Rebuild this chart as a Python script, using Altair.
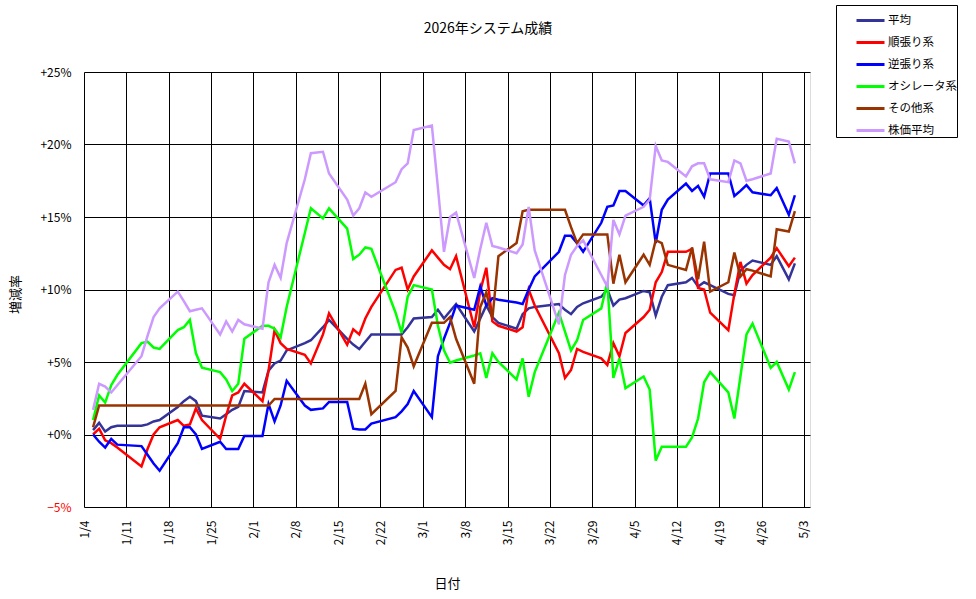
import altair as alt
import pandas as pd

# trading days (2026)
dates = [
    "2026-01-05", "2026-01-06", "2026-01-07", "2026-01-08", "2026-01-09",
    "2026-01-13", "2026-01-14", "2026-01-15", "2026-01-16", "2026-01-19",
    "2026-01-20", "2026-01-21", "2026-01-22", "2026-01-23", "2026-01-26",
    "2026-01-27", "2026-01-28", "2026-01-29", "2026-01-30",
    "2026-02-02", "2026-02-03", "2026-02-04", "2026-02-05", "2026-02-06",
    "2026-02-09", "2026-02-10", "2026-02-12", "2026-02-13", "2026-02-16",
    "2026-02-17", "2026-02-18", "2026-02-19", "2026-02-20", "2026-02-24",
    "2026-02-25", "2026-02-26", "2026-02-27",
    "2026-03-02", "2026-03-03", "2026-03-04", "2026-03-05", "2026-03-06",
    "2026-03-09", "2026-03-10", "2026-03-11", "2026-03-12", "2026-03-13",
    "2026-03-16", "2026-03-17", "2026-03-18", "2026-03-19", "2026-03-23",
    "2026-03-24", "2026-03-25", "2026-03-26", "2026-03-27", "2026-03-30",
    "2026-03-31",
    "2026-04-01", "2026-04-02", "2026-04-03", "2026-04-06", "2026-04-07",
    "2026-04-08", "2026-04-09", "2026-04-10", "2026-04-13", "2026-04-14",
    "2026-04-15", "2026-04-16", "2026-04-17", "2026-04-20", "2026-04-21",
    "2026-04-22", "2026-04-23", "2026-04-24", "2026-04-27", "2026-04-28",
    "2026-04-30",
    "2026-05-01",
]

avg = [0.3, 0.8, 0.2, 0.5, 0.6, 0.6, 0.7, 0.9, 1.0, 1.9, 2.3, 2.6, 2.3, 1.3, 1.1, 1.4, 1.7, 1.9, 3.0,
       2.9, 4.4, 4.9, 5.1, 5.8, 6.3, 6.5, 7.4, 7.9, 6.6, 6.2, 5.9, 6.4, 6.9, 6.9, 6.9, 7.4, 8.0,
       8.1, 8.6, 8.0, 8.5, 9.0, 7.1, 8.0, 8.9, 8.1, 7.7, 7.3, 8.3, 8.7, 8.8, 9.0, 8.6, 8.3, 8.8, 9.05, 9.5, 10.0,
       8.9, 9.3, 9.4, 9.9, 9.8, 8.2, 9.5, 10.3, 10.5, 10.8, 10.2, 10.5, 10.3, 9.7, 9.6, 11.3, 11.7, 12.0, 11.7, 12.3, 10.7,
       11.8]

trend = [0.0, 0.4, -0.4, -0.6, -0.9, -2.2, -1.0, 0.0, 0.5, 1.0, 0.6, 0.7, 1.8, 1.0, -0.3, 1.3, 2.7, 2.9, 3.5,
         2.3, 4.4, 7.2, 6.3, 5.9, 5.5, 4.9, 6.9, 8.35, 6.2, 7.25, 6.9, 8.0, 8.8, 11.35, 11.5, 10.0, 10.9,
         12.7, 12.2, 11.7, 11.4, 12.3, 7.4, 9.9, 11.5, 7.8, 7.5, 7.1, 7.4, 10.0, 8.9, 5.6, 3.9, 4.45, 5.9, 5.7, 5.25, 4.8,
         6.3, 5.4, 7.0, 8.1, 8.6, 10.5, 11.2, 12.6, 12.6, 12.8, 10.1, 10.0, 8.4, 7.2, 9.7, 11.9, 10.4, 11.0, 12.2, 12.85, 11.6,
         12.2]

contra = [0.0, -0.5, -0.9, -0.3, -0.7, -0.8, -1.4, -2.0, -2.5, -0.6, 0.5, 0.5, 0.0, -1.0, -0.5, -1.0, -1.0, -1.0, -0.1,
          -0.1, 2.1, 0.9, 2.0, 3.7, 2.0, 1.7, 1.8, 2.25, 2.25, 0.4, 0.35, 0.35, 0.75, 1.2, 1.6, 2.1, 3.0,
          1.2, 5.4, 6.6, 7.7, 8.9, 8.6, 10.2, 8.9, 9.4, 9.3, 9.1, 9.0, 10.0, 10.9, 12.6, 13.7, 13.7, 13.2, 12.6, 14.6, 15.7,
          15.8, 16.8, 16.8, 15.8, 16.3, 13.2, 15.5, 16.2, 17.3, 16.8, 17.15, 16.4, 18.0, 18.0, 16.45, 16.8, 17.2, 16.7, 16.5, 17.0, 15.15,
          16.5]

osc = [1.0, 2.7, 2.2, 3.4, 4.1, 6.3, 6.4, 6.0, 5.9, 7.2, 7.4, 7.9, 5.6, 4.6, 4.3, 3.8, 3.0, 3.5, 6.6,
       7.5, 7.5, 7.3, 6.7, 8.8, 13.9, 15.6, 14.9, 15.6, 14.2, 12.1, 12.4, 12.9, 12.8, 8.4, 7.0, 9.5, 10.3,
       10.0, 7.5, 5.8, 4.95, 5.1, 5.45, 5.6, 3.9, 5.6, 5.0, 3.8, 5.25, 2.6, 4.3, 8.4, 7.1, 5.8, 6.5, 7.9, 8.7, 10.5,
       3.9, 5.25, 3.2, 4.0, 3.1, -1.8, -0.85, -0.85, -0.85, -0.2, 1.1, 3.6, 4.3, 2.9, 1.1, 4.0, 6.9, 7.65, 4.6, 5.0, 3.1,
       4.3]

other = [0.5, 2.0, 2.0, 2.0, 2.0, 2.0, 2.0, 2.0, 2.0, 2.0, 2.0, 2.0, 2.0, 2.0, 2.0, 2.0, 2.0, 2.0, 2.0,
         2.0, 2.0, 2.45, 2.45, 2.45, 2.45, 2.45, 2.45, 2.45, 2.45, 2.45, 2.45, 3.5, 1.4, 3.0, 6.7, 6.0, 4.7,
         7.7, 7.7, 7.7, 8.1, 6.6, 3.5, 8.8, 9.8, 8.0, 12.3, 13.2, 15.4, 15.5, 15.5, 15.5, 15.5, 14.3, 13.2, 13.8, 13.8, 13.8,
         10.4, 12.4, 10.5, 12.4, 11.7, 13.4, 13.2, 11.7, 11.35, 12.9, 10.7, 13.3, 9.85, 10.5, 12.55, 10.9, 11.4, 11.3, 10.9, 14.15, 14.0,
         15.4]

stock = [1.7, 3.5, 3.3, 2.9, 3.4, 5.4, 6.8, 8.1, 8.7, 9.85, 9.2, 8.5, 8.6, 8.7, 6.9, 7.8, 7.1, 7.9, 7.6,
         7.3, 10.5, 11.7, 10.8, 13.2, 17.6, 19.4, 19.5, 18.0, 16.2, 15.1, 15.6, 16.7, 16.4, 17.4, 18.3, 18.7, 21.0,
         21.3, 17.0, 12.6, 15.0, 15.3, 10.8, 12.8, 14.6, 13.0, 12.9, 12.5, 13.1, 15.7, 12.7, 7.6, 11.0, 12.4, 13.0, 13.4, 11.0, 10.2,
         14.8, 13.8, 15.1, 15.7, 16.2, 19.9, 18.9, 18.8, 17.8, 18.5, 18.7, 18.7, 17.6, 17.4, 18.9, 18.7, 17.5, 17.6, 18.0, 20.4, 20.2,
         18.7]

series_names = ["平均", "順張り系", "逆張り系", "オシレータ系", "その他系", "株価平均"]
series_colors = ["#333399", "#FF0000", "#0000FF", "#00FF00", "#993300", "#CC99FF"]
series_values = [avg, trend, contra, osc, other, stock]

week_ticks = [(1, 4), (1, 11), (1, 18), (1, 25), (2, 1), (2, 8), (2, 15), (2, 22),
              (3, 1), (3, 8), (3, 15), (3, 22), (3, 29), (4, 5), (4, 12), (4, 19),
              (4, 26), (5, 3)]
y_ticks = [-5, 0, 5, 10, 15, 20, 25]

rows = []
for order, (name, vals) in enumerate(zip(series_names, series_values)):
    for d, v in zip(dates, vals):
        rows.append({"date": d + "T12:00:00", "value": v, "series": name, "order": order})
df = pd.DataFrame(rows)

FONT = "Noto Sans CJK JP"

x_axis = alt.Axis(
    values=[alt.DateTime(year=2026, month=m, date=d) for m, d in week_ticks],
    format="%-m/%-d", labelAngle=270, labelPadding=13, labelOverlap=False,
    labelFlush=False, labelFont=FONT, labelFontSize=12, labelColor="black",
    grid=True, gridColor="black", gridOpacity=1, gridWidth=1,
    tickSize=0, domain=False,
    title="日付", titleFont=FONT, titleFontSize=13, titleFontWeight="normal",
    titleColor="black", titleX=363, titleY=76, titleBaseline="middle", titleAlign="center",
)

y_axis = alt.Axis(
    values=y_ticks,
    labelExpr="(datum.value < 0 ? '−' : '+') + abs(datum.value) + '%'",
    labelColor={"condition": {"test": "datum.value < 0", "value": "#FF0000"}, "value": "black"},
    labelPadding=13, labelFont=FONT, labelFontSize=12,
    grid=True, gridColor="black", gridOpacity=1, gridWidth=1,
    tickSize=0, domain=False,
    title="増減率", titleFont=FONT, titleFontSize=13, titleFontWeight="normal",
    titleColor="black", titleAngle=270, titleX=-69, titleY=222,
    titleBaseline="middle", titleAlign="center",
)

chart = alt.Chart(df).mark_line(strokeWidth=2.5, strokeJoin="miter", strokeCap="butt").encode(
    x=alt.X("date:T",
            scale=alt.Scale(domain=[alt.DateTime(year=2026, month=1, date=4),
                                    alt.DateTime(year=2026, month=5, date=4)], nice=False),
            axis=x_axis),
    y=alt.Y("value:Q", scale=alt.Scale(domain=[-5, 25], nice=False, zero=False), axis=y_axis),
    color=alt.Color("series:N",
                    scale=alt.Scale(domain=series_names, range=series_colors),
                    legend=alt.Legend(
                        orient="none", legendX=752, legendY=-67, title=None,
                        symbolType="stroke", symbolSize=784, symbolStrokeWidth=3,
                        padding=0, symbolOffset=19, labelOffset=2, rowPadding=0,
                        strokeColor="black", fillColor="white",
                        labelFont=FONT, labelFontSize=11.5, labelColor="black", labelLimit=300,
                    )),
    order=alt.Order("order:Q"),
    detail="series:N",
).properties(
    width=726, height=435,
    title=alt.TitleParams("2026年システム成績", font=FONT, fontSize=14, fontWeight="normal",
                          color="black", anchor="middle", frame="group", dx=41, offset=-31),
    autosize=alt.AutoSizeParams(type="none"),
    padding={"left": 84, "top": 72, "right": 166, "bottom": 92},
).configure_view(
    stroke="black", strokeWidth=1, fill="white"
).configure(background="white")

chart.save("out.html", embed_options={"renderer": "svg", "actions": False})
